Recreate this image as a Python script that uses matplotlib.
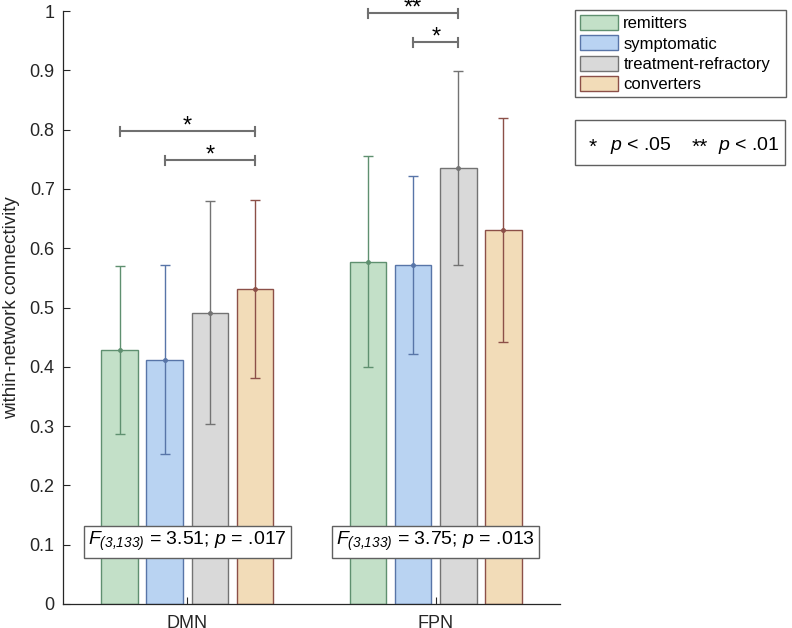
import matplotlib
matplotlib.use("Agg")
import matplotlib.pyplot as plt
from matplotlib.patches import Patch, Rectangle
import numpy as np

plt.rcParams['font.family'] = ['Liberation Sans', 'DejaVu Sans']
plt.rcParams['mathtext.fontset'] = 'custom'
plt.rcParams['mathtext.rm'] = 'Liberation Sans'
plt.rcParams['mathtext.it'] = 'Liberation Sans:italic'
plt.rcParams['mathtext.sf'] = 'Liberation Sans:italic'

# ---- data ----
networks = ["DMN", "FPN"]
groups = ["remitters", "symptomatic", "treatment-refractory", "converters"]
means = {
    "remitters":            [0.428, 0.577],
    "symptomatic":          [0.412, 0.572],
    "treatment-refractory": [0.491, 0.735],
    "converters":           [0.531, 0.631],
}
lower = {
    "remitters":            [0.286, 0.399],
    "symptomatic":          [0.253, 0.422],
    "treatment-refractory": [0.303, 0.571],
    "converters":           [0.381, 0.441],
}
upper = {
    "remitters":            [0.570, 0.755],
    "symptomatic":          [0.571, 0.722],
    "treatment-refractory": [0.680, 0.898],
    "converters":           [0.681, 0.820],
}
stats_text = [r"$\mathit{F}_{\mathsf{(3{,}133)}}$ = 3.51; $\mathit{p}$ = .017",
              r"$\mathit{F}_{\mathsf{(3{,}133)}}$ = 3.75; $\mathit{p}$ = .013"]
# significance: (network index, group a, group b, y level, label)
sig = [(0, 0, 3, 0.797, "*"), (0, 1, 3, 0.748, "*"),
       (1, 0, 2, 0.996, "**"), (1, 1, 2, 0.947, "*")]
yticks = [0, 0.1, 0.2, 0.3, 0.4, 0.5, 0.6, 0.7, 0.8, 0.9, 1]
ytick_labels = ["0", "0.1", "0.2", "0.3", "0.4", "0.5", "0.6", "0.7", "0.8", "0.9", "1"]

fills = ['#c3e0c8', '#b9d3f2', '#d9d9d9', '#f2dcb8']
edges = ['#5f9070', '#5875a8', '#737373', '#8c5048']
axcol = '#262626'

fig = plt.figure(figsize=(7.92, 6.28), dpi=100)
ax = fig.add_axes([63/792, 24/628, (560-63)/792, (604-11)/628])

x = np.arange(1, len(networks) + 1)
offsets = np.array([-0.272, -0.0907, 0.0907, 0.272])
width = 0.147

for i, g in enumerate(groups):
    m = np.array(means[g]); lo = np.array(lower[g]); hi = np.array(upper[g])
    xs = x + offsets[i]
    ax.bar(xs, m, width=width, color=fills[i], edgecolor=edges[i], linewidth=1.0, zorder=2)
    ax.errorbar(xs, m, yerr=[m - lo, hi - m], fmt='o', ms=2.5, color=edges[i],
                ecolor=edges[i], elinewidth=1.0, capsize=3.8, capthick=1.0, zorder=3)

for n, a, b, yv, lab in sig:
    xa = x[n] + offsets[a]; xb = x[n] + offsets[b]
    ax.plot([xa, xb], [yv, yv], color='#707070', lw=1.5, clip_on=False, zorder=4)
    for xe in (xa, xb):
        ax.plot([xe, xe], [yv - 0.007, yv + 0.007], color='#707070', lw=1.5, clip_on=False, zorder=4)
    ax.text((xa + xb) / 2, yv - 0.002, lab, ha='center', va='baseline', fontsize=17,
            color='black', clip_on=False)

for n in range(len(networks)):
    ax.text(x[n], 0.105, stats_text[n], ha='center', va='center', fontsize=14, color='black',
            bbox=dict(boxstyle='square,pad=0.22', facecolor='white', edgecolor='#606060', linewidth=1.0),
            zorder=5)

ax.set_xlim(0.5, 2.5)
ax.set_ylim(0, 1)
ax.set_xticks(x)
ax.set_xticklabels(networks)
ax.set_yticks(yticks)
ax.set_yticklabels(ytick_labels)
ax.tick_params(direction='in', length=5, width=0.8, colors=axcol, labelsize=13, pad=6)
ax.tick_params(axis='x', pad=8)
for s in ('top', 'right'):
    ax.spines[s].set_visible(False)
for s in ('left', 'bottom'):
    ax.spines[s].set_color(axcol)
    ax.spines[s].set_linewidth(0.9)
ax.set_ylabel("within-network connectivity", fontsize=13.5, color=axcol, labelpad=7)

handles = [Patch(facecolor=fills[i], edgecolor=edges[i], linewidth=1.0) for i in range(4)]
leg = fig.legend(handles, groups, loc='upper left',
                 bbox_to_anchor=(575/792, 1 - 97/628, 211/792, 87/628), mode='expand',
                 bbox_transform=fig.transFigure, borderaxespad=0, fontsize=12,
                 handlelength=2.3, handleheight=1.0, handletextpad=0.3, labelspacing=0.25,
                 borderpad=0.3, fancybox=False, framealpha=1)
leg.get_frame().set_edgecolor('#606060')
leg.get_frame().set_linewidth(1.0)

# significance key box
fig.patches.append(Rectangle((575/792, 1 - 165/628), 210/792, 45/628, transform=fig.transFigure,
                             facecolor='white', edgecolor='#606060', linewidth=1.0))
yk = 1 - 150/628
fig.text(593/792, yk - 3/628, "*", ha='center', va='baseline', fontsize=15)
fig.text(610/792, yk, r"$\mathit{p}$ < .05", ha='left', va='baseline', fontsize=14)
fig.text(700/792, yk - 3/628, "**", ha='center', va='baseline', fontsize=15)
fig.text(718/792, yk, r"$\mathit{p}$ < .01", ha='left', va='baseline', fontsize=14)

fig.savefig("out.png", dpi=100)
